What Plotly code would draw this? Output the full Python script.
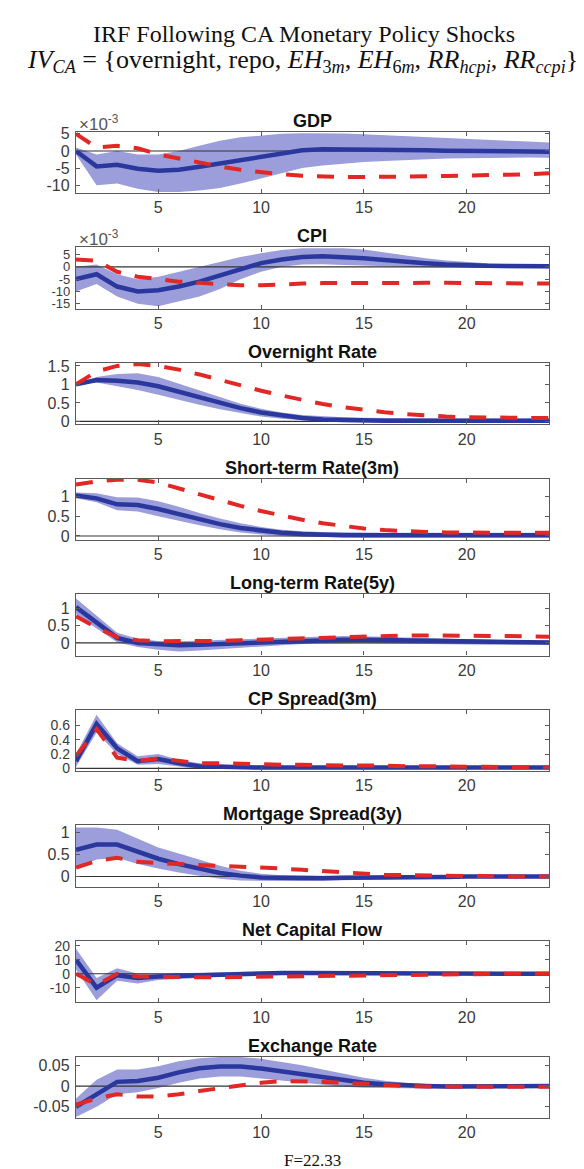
import plotly.graph_objects as go

horizon = list(range(1, 25))
x_ticks = [5, 10, 15, 20]

panel_titles = ["GDP", "CPI", "Overnight Rate", "Short-term Rate(3m)", "Long-term Rate(5y)",
                "CP Spread(3m)", "Mortgage Spread(3y)", "Net Capital Flow", "Exchange Rate"]

# GDP and CPI values are in units of 1e-3
gdp_med = [0, -4.5, -4, -5.2, -5.8, -5.5, -4.6, -3.6, -2.6, -1.6, -0.6, 0.2, 0.5, 0.5, 0.5, 0.4, 0.3, 0.2, 0.1, 0, 0, 0, -0.1, -0.2]
gdp_hi = [1, -1, 0, -1, -1, 0, 1.5, 3, 4, 4.6, 5, 5.2, 5.2, 5.1, 4.9, 4.6, 4.3, 4, 3.7, 3.4, 3.2, 3, 2.8, 2.5]
gdp_lo = [-1, -10, -9.5, -11, -12, -12, -11.5, -10.8, -9.5, -8, -6.5, -5, -4.2, -3.6, -3.2, -2.9, -2.6, -2.4, -2.2, -2.1, -2, -1.9, -1.9, -2]
gdp_alt = [5, 1, 1.5, 0.8, -1, -2.2, -3.5, -4.5, -5.5, -6.2, -6.8, -7.2, -7.5, -7.6, -7.6, -7.6, -7.5, -7.4, -7.3, -7.2, -7.1, -7, -6.8, -6.5]

cpi_med = [-5, -3, -8, -10, -9.5, -8, -6, -3.5, -1, 1.5, 3, 4, 4.3, 4, 3.5, 2.8, 2, 1.5, 1, 0.6, 0.4, 0.3, 0.2, 0.2]
cpi_hi = [0, 1, -3, -5, -4, -2, 0, 2, 4, 5.5, 6.8, 7.5, 7.6, 7.5, 7, 5.8, 4.6, 3.5, 2.6, 2, 1.5, 1.2, 1, 1]
cpi_lo = [-10, -7, -12, -15, -16, -14, -12, -9, -5, -2, 0, 1, 1.1, 0.8, 0.5, 0.2, 0, -0.2, -0.3, -0.5, -0.6, -0.6, -0.6, -0.6]
cpi_alt = [3, 2.5, -2, -4, -5, -6, -6.5, -7, -7.5, -7.5, -7, -6.8, -6.6, -6.5, -6.5, -6.5, -6.5, -6.5, -6.5, -6.6, -6.6, -6.7, -6.8, -6.8]

on_med = [1.0, 1.12, 1.1, 1.05, 0.95, 0.8, 0.65, 0.5, 0.36, 0.24, 0.15, 0.09, 0.05, 0.03, 0.02, 0.02, 0.02, 0.02, 0.02, 0.02, 0.02, 0.02, 0.02, 0.02]
on_hi = [1.0, 1.2, 1.28, 1.3, 1.2, 1.02, 0.82, 0.64, 0.48, 0.34, 0.24, 0.17, 0.13, 0.11, 0.1, 0.09, 0.09, 0.08, 0.08, 0.08, 0.08, 0.08, 0.08, 0.08]
on_lo = [1.0, 1.05, 0.95, 0.85, 0.72, 0.58, 0.45, 0.33, 0.22, 0.13, 0.07, 0.03, 0.0, -0.02, -0.03, -0.03, -0.03, -0.03, -0.03, -0.03, -0.03, -0.03, -0.03, -0.03]
on_alt = [1.0, 1.35, 1.5, 1.55, 1.5, 1.4, 1.27, 1.12, 0.97, 0.83, 0.7, 0.58, 0.47, 0.38, 0.31, 0.25, 0.2, 0.16, 0.13, 0.11, 0.1, 0.09, 0.09, 0.09]

st_med = [1.02, 0.95, 0.8, 0.78, 0.68, 0.55, 0.42, 0.3, 0.2, 0.13, 0.08, 0.05, 0.03, 0.02, 0.02, 0.02, 0.02, 0.02, 0.02, 0.02, 0.02, 0.02, 0.02, 0.02]
st_hi = [1.1, 1.08, 0.98, 0.97, 0.88, 0.74, 0.58, 0.44, 0.32, 0.23, 0.16, 0.12, 0.1, 0.09, 0.08, 0.08, 0.08, 0.08, 0.08, 0.08, 0.08, 0.08, 0.08, 0.08]
st_lo = [0.95, 0.85, 0.65, 0.62, 0.5, 0.38, 0.27, 0.17, 0.09, 0.04, 0.0, -0.02, -0.03, -0.04, -0.04, -0.04, -0.04, -0.04, -0.04, -0.04, -0.04, -0.04, -0.04, -0.04]
st_alt = [1.3, 1.38, 1.42, 1.42, 1.35, 1.2, 1.05, 0.9, 0.76, 0.63, 0.51, 0.41, 0.32, 0.25, 0.19, 0.15, 0.12, 0.1, 0.09, 0.08, 0.08, 0.08, 0.08, 0.08]

lt_med = [1.05, 0.6, 0.15, 0.0, -0.05, -0.07, -0.05, -0.03, 0.0, 0.03, 0.05, 0.07, 0.08, 0.09, 0.09, 0.08, 0.07, 0.05, 0.04, 0.03, 0.02, 0.01, 0.01, 0.01]
lt_hi = [1.3, 0.8, 0.3, 0.12, 0.06, 0.05, 0.07, 0.1, 0.12, 0.15, 0.17, 0.18, 0.19, 0.2, 0.2, 0.18, 0.16, 0.14, 0.12, 0.1, 0.09, 0.08, 0.07, 0.07]
lt_lo = [0.85, 0.42, 0.02, -0.12, -0.2, -0.25, -0.22, -0.18, -0.13, -0.09, -0.05, -0.03, -0.02, -0.01, -0.01, -0.02, -0.03, -0.04, -0.05, -0.05, -0.05, -0.05, -0.05, -0.05]
lt_alt = [0.78, 0.45, 0.17, 0.08, 0.05, 0.05, 0.05, 0.06, 0.08, 0.1, 0.12, 0.14, 0.16, 0.18, 0.2, 0.21, 0.22, 0.22, 0.22, 0.21, 0.2, 0.2, 0.19, 0.18]

cp_med = [0.1, 0.62, 0.28, 0.1, 0.13, 0.07, 0.03, 0.02, 0.01, 0.01, 0.01, 0.01, 0.01, 0.01, 0.01, 0.01, 0.01, 0.01, 0.01, 0.01, 0.01, 0.01, 0.01, 0.01]
cp_hi = [0.2, 0.75, 0.35, 0.17, 0.2, 0.12, 0.07, 0.05, 0.04, 0.04, 0.03, 0.03, 0.03, 0.03, 0.03, 0.03, 0.03, 0.03, 0.03, 0.03, 0.03, 0.03, 0.03, 0.03]
cp_lo = [0.02, 0.5, 0.2, 0.05, 0.06, 0.02, -0.01, -0.01, -0.01, -0.01, -0.01, -0.01, -0.01, -0.01, -0.01, -0.01, -0.01, -0.01, -0.01, -0.01, -0.01, -0.01, -0.01, -0.01]
cp_alt = [0.17, 0.55, 0.15, 0.1, 0.14, 0.1, 0.07, 0.07, 0.06, 0.05, 0.05, 0.05, 0.04, 0.04, 0.04, 0.03, 0.03, 0.03, 0.02, 0.02, 0.02, 0.02, 0.01, 0.01]

mg_med = [0.6, 0.72, 0.72, 0.55, 0.4, 0.28, 0.17, 0.08, 0.02, -0.02, -0.03, -0.04, -0.04, -0.03, -0.03, -0.02, -0.02, -0.01, -0.01, 0, 0, 0, 0, 0]
mg_hi = [1.1, 1.1, 1.05, 0.85, 0.65, 0.52, 0.38, 0.24, 0.13, 0.06, 0.03, 0.02, 0.02, 0.02, 0.03, 0.03, 0.03, 0.03, 0.03, 0.03, 0.03, 0.02, 0.02, 0.02]
mg_lo = [0.2, 0.38, 0.42, 0.28, 0.18, 0.09, 0.02, -0.05, -0.09, -0.1, -0.1, -0.1, -0.09, -0.08, -0.07, -0.06, -0.05, -0.04, -0.03, -0.03, -0.02, -0.02, -0.02, -0.02]
mg_alt = [0.2, 0.35, 0.42, 0.33, 0.3, 0.28, 0.27, 0.26, 0.23, 0.2, 0.18, 0.15, 0.12, 0.09, 0.06, 0.04, 0.03, 0.02, 0.01, 0.0, 0, 0, 0, 0]

ncf_med = [10, -10, -1, -3, -2, -1.5, -1, -0.5, 0, 0.3, 0.5, 0.5, 0.4, 0.3, 0.2, 0.1, 0, 0, 0, 0, 0, 0, 0, 0]
ncf_hi = [18, -3, 4, 0, 0, 0.5, 1, 1.2, 1.5, 1.6, 1.7, 1.7, 1.6, 1.5, 1.3, 1.2, 1, 1, 1, 1, 1, 1, 1, 1]
ncf_lo = [3, -19, -5, -7, -4.5, -3.5, -3, -2.2, -1.5, -1, -0.7, -0.7, -0.8, -0.9, -1, -1, -1, -1, -1, -1, -1, -1, -1, -1]
ncf_alt = [0, -8, 0, -2, -2, -2.5, -2.5, -2.5, -2.3, -2, -1.8, -1.5, -1.3, -1, -0.8, -0.5, -0.3, -0.2, -0.1, 0, 0, 0, 0, 0]

fx_med = [-0.05, -0.02, 0.01, 0.012, 0.02, 0.033, 0.043, 0.047, 0.047, 0.042, 0.035, 0.028, 0.02, 0.013, 0.008, 0.004, 0.001, 0, -0.001, -0.001, -0.001, 0, 0, 0]
fx_hi = [-0.03, 0.015, 0.04, 0.04, 0.048, 0.06, 0.067, 0.07, 0.07, 0.066, 0.058, 0.05, 0.04, 0.03, 0.02, 0.013, 0.008, 0.005, 0.004, 0.004, 0.004, 0.004, 0.004, 0.004]
fx_lo = [-0.075, -0.05, -0.02, -0.015, -0.005, 0.008, 0.018, 0.023, 0.023, 0.018, 0.012, 0.007, 0.002, -0.002, -0.004, -0.005, -0.006, -0.006, -0.006, -0.005, -0.005, -0.004, -0.004, -0.004]
fx_alt = [-0.045, -0.03, -0.02, -0.025, -0.025, -0.02, -0.012, -0.005, 0.003, 0.008, 0.012, 0.012, 0.01, 0.008, 0.005, 0.002, 0, -0.001, -0.002, -0.002, -0.002, -0.002, -0.002, -0.002]

y_tickvals = [[-10, -5, 0, 5], [-15, -10, -5, 0, 5], [0, 0.5, 1, 1.5], [0, 0.5, 1], [0, 0.5, 1],
              [0, 0.2, 0.4, 0.6], [0, 0.5, 1], [-10, 0, 10, 20], [-0.05, 0, 0.05]]
y_ticktext = [["-10", "-5", "0", "5"], ["-15", "-10", "-5", "0", "5"], ["0", "0.5", "1", "1.5"],
              ["0", "0.5", "1"], ["0", "0.5", "1"], ["0", "0.2", "0.4", "0.6"], ["0", "0.5", "1"],
              ["-10", "0", "10", "20"], ["-0.05", "0", "0.05"]]
y_ranges = [[-12.3, 5.6], [-17, 7.9], [-0.08, 1.58], [-0.1, 1.45], [-0.37, 1.43],
            [-0.04, 0.82], [-0.23, 1.15], [-20.5, 23.5], [-0.077, 0.071]]
y_tick_size = [16, 13, 16, 16, 16, 14, 16, 14, 16]

meds = [gdp_med, cpi_med, on_med, st_med, lt_med, cp_med, mg_med, ncf_med, fx_med]
his = [gdp_hi, cpi_hi, on_hi, st_hi, lt_hi, cp_hi, mg_hi, ncf_hi, fx_hi]
los = [gdp_lo, cpi_lo, on_lo, st_lo, lt_lo, cp_lo, mg_lo, ncf_lo, fx_lo]
alts = [gdp_alt, cpi_alt, on_alt, st_alt, lt_alt, cp_alt, mg_alt, ncf_alt, fx_alt]

W, H = 584, 1169
PX_L, PX_R = 68, 541
panel_top0, panel_step, panel_h = 119, 116.8, 62

BAND = "rgb(155,158,218)"
BLUE = "rgb(42,56,158)"
RED = "rgb(226,40,36)"
AXC = "#5a5a5a"

fig = go.Figure()
layout = dict(
    width=W, height=H, margin=dict(l=0, r=0, t=0, b=0),
    paper_bgcolor="white", plot_bgcolor="white", showlegend=False,
    font=dict(family="Liberation Sans, Arial, sans-serif", size=16, color="#333"),
)
annotations = []

for i in range(9):
    n = i + 1
    xa = "x" if n == 1 else f"x{n}"
    ya = "y" if n == 1 else f"y{n}"
    top = panel_top0 + i * panel_step
    bot = top + panel_h
    fig.add_trace(go.Scatter(x=horizon, y=his[i], mode="lines", line=dict(width=0, color=BAND),
                             xaxis=xa, yaxis=ya, hoverinfo="skip"))
    fig.add_trace(go.Scatter(x=horizon, y=los[i], mode="lines", line=dict(width=0, color=BAND),
                             fill="tonexty", fillcolor=BAND, xaxis=xa, yaxis=ya, hoverinfo="skip"))
    fig.add_trace(go.Scatter(x=horizon, y=[0] * len(horizon), mode="lines",
                             line=dict(width=1.2, color="#333"), xaxis=xa, yaxis=ya, hoverinfo="skip"))
    fig.add_trace(go.Scatter(x=horizon, y=meds[i], mode="lines", line=dict(width=4.5, color=BLUE),
                             xaxis=xa, yaxis=ya))
    fig.add_trace(go.Scatter(x=horizon, y=alts[i], mode="lines",
                             line=dict(width=4, color=RED, dash="17px,14px"), xaxis=xa, yaxis=ya))
    axis_common = dict(showline=True, mirror="ticks", linecolor=AXC, linewidth=1.3, ticks="inside",
                       ticklen=4, tickcolor=AXC, tickwidth=1.2, showgrid=False, zeroline=False)
    layout["xaxis" if n == 1 else f"xaxis{n}"] = dict(
        domain=[PX_L / W, PX_R / W], range=[1, 24], tickvals=x_ticks, anchor=ya,
        tickfont=dict(size=16, color="#3a3a3a"), **axis_common)
    layout["yaxis" if n == 1 else f"yaxis{n}"] = dict(
        domain=[1 - bot / H, 1 - top / H], range=y_ranges[i], tickvals=y_tickvals[i],
        ticktext=y_ticktext[i], anchor=xa, ticklabelstandoff=2,
        tickfont=dict(size=y_tick_size[i], color="#3a3a3a"), **axis_common)
    annotations.append(dict(text=f"<b>{panel_titles[i]}</b>", xref="paper", yref="paper",
                            x=(PX_L + PX_R) / 2 / W, y=1 - (top - 11) / H, xanchor="center",
                            yanchor="middle", showarrow=False,
                            font=dict(size=18, color="#111", family="Liberation Sans, Arial")))
    if i < 2:
        annotations.append(dict(text="×10<sup>-3</sup>", xref="paper", yref="paper",
                                x=(PX_L + 1) / W, y=1 - (top - 9) / H, xanchor="left", yanchor="middle",
                                showarrow=False, font=dict(size=17, color="#555")))

serif = "Liberation Serif, Times New Roman, serif"
annotations.append(dict(text="IRF Following CA Monetary Policy Shocks", xref="paper", yref="paper",
                        x=0.507, y=1 - 20 / H, xanchor="center", yanchor="middle", showarrow=False,
                        font=dict(size=24, color="#111", family=serif)))
annotations.append(dict(
    text="<i>IV</i><sub><i>CA</i></sub> = {overnight, repo, <i>EH</i><sub>3<i>m</i></sub>, "
         "<i>EH</i><sub>6<i>m</i></sub>, <i>RR</i><sub><i>hcpi</i></sub>, <i>RR</i><sub><i>ccpi</i></sub>}",
    xref="paper", yref="paper", x=0.505, y=1 - 47 / H, xanchor="center", yanchor="middle",
    showarrow=False, font=dict(size=26, color="#111", family=serif)))
annotations.append(dict(text="F=22.33", xref="paper", yref="paper", x=(PX_L + PX_R) / 2 / W,
                        y=1 - 1158 / H, xanchor="center", yanchor="middle", showarrow=False,
                        font=dict(size=17, color="#111", family=serif)))

layout["annotations"] = annotations
fig.update_layout(**layout)
fig.write_html("out.html")
